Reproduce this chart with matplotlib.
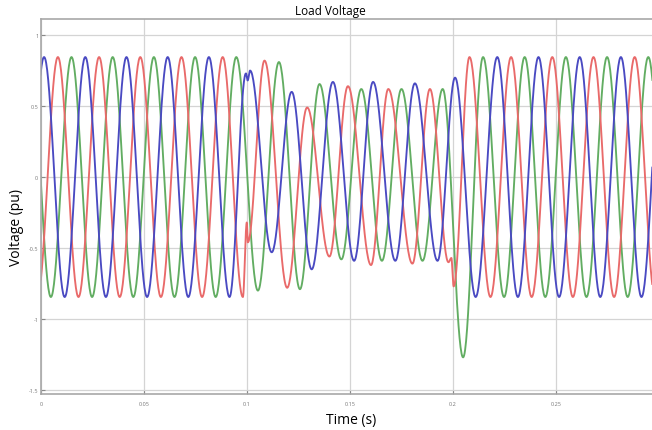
import numpy as np
import matplotlib
matplotlib.use('Agg')
import matplotlib.pyplot as plt

# Extrema (time s, voltage pu), per phase
blue_t = [-0.0085, 0.0015, 0.0115, 0.0215, 0.0315, 0.0415, 0.0515, 0.0615, 0.0715, 0.0815,
          0.0915, 0.0995, 0.1003, 0.1015, 0.1120, 0.1217, 0.1314, 0.1417, 0.1520, 0.1612,
          0.1720, 0.1815, 0.1925, 0.2010, 0.2110, 0.2215, 0.2315, 0.2415, 0.2515, 0.2615,
          0.2715, 0.2815, 0.2915, 0.3015]
blue_v = [-0.845, 0.845, -0.845, 0.845, -0.845, 0.845, -0.845, 0.845, -0.845, 0.845,
          -0.845, 0.73, 0.68, 0.75, -0.53, 0.60, -0.65, 0.67, -0.59, 0.67,
          -0.59, 0.66, -0.59, 0.70, -0.845, 0.845, -0.845, 0.845, -0.845, 0.845,
          -0.845, 0.845, -0.845, 0.845]

red_t = [-0.0018, 0.0082, 0.0182, 0.0282, 0.0382, 0.0482, 0.0582, 0.0682, 0.0782, 0.0882,
         0.0980, 0.0999, 0.1004, 0.1085, 0.1195, 0.1292, 0.1400, 0.1490, 0.1602, 0.1686,
         0.1803, 0.1888, 0.1978, 0.1992, 0.2003, 0.2080, 0.2182, 0.2282, 0.2382, 0.2482,
         0.2582, 0.2682, 0.2782, 0.2882, 0.2982, 0.3082]
red_v = [-0.845, 0.845, -0.845, 0.845, -0.845, 0.845, -0.845, 0.845, -0.845, 0.845,
         -0.845, -0.32, -0.46, 0.82, -0.78, 0.49, -0.56, 0.64, -0.62, 0.62,
         -0.61, 0.62, -0.60, -0.57, -0.77, 0.845, -0.845, 0.845, -0.845, 0.845,
         -0.845, 0.845, -0.845, 0.845, -0.845, 0.845]

green_t = [-0.0052, 0.0048, 0.0148, 0.0248, 0.0348, 0.0448, 0.0548, 0.0648, 0.0748, 0.0848,
           0.0948, 0.1053, 0.1155, 0.1257, 0.1352, 0.1458, 0.1555, 0.1655, 0.1750, 0.1852,
           0.1950, 0.2049, 0.2146, 0.2248, 0.2348, 0.2448, 0.2548, 0.2648, 0.2748, 0.2848,
           0.2948, 0.3048]
green_v = [0.845, -0.845, 0.845, -0.845, 0.845, -0.845, 0.845, -0.845, 0.845, -0.845,
           0.845, -0.80, 0.81, -0.79, 0.655, -0.58, 0.62, -0.59, 0.62, -0.59,
           0.62, -1.27, 0.845, -0.845, 0.845, -0.845, 0.845, -0.845, 0.845, -0.845,
           0.845, -0.845]

x_ticks = [0, 0.05, 0.1, 0.15, 0.2, 0.25]
x_labels = ['0', '0.05', '0.1', '0.15', '0.2', '0.25']
y_ticks = [-1.5, -1, -0.5, 0, 0.5, 1]
y_labels = ['-1.5', '-1', '-0.5', '0', '0.5', '1']


def trace(ts, vs, n=40):
    """join the extrema with half-cosine segments, like the scope waveform"""
    tt, vv = [], []
    for i in range(len(ts) - 1):
        s = np.linspace(0, 1, n, endpoint=False)
        tt.append(ts[i] + s * (ts[i + 1] - ts[i]))
        vv.append(vs[i + 1] + (vs[i] - vs[i + 1]) * 0.5 * (1 + np.cos(np.pi * s)))
    tt.append([ts[-1]])
    vv.append([vs[-1]])
    return np.concatenate(tt), np.concatenate(vv)


plt.rcParams['font.family'] = ['Open Sans', 'DejaVu Sans']

fig = plt.figure(figsize=(6.52, 4.31), dpi=100)
ax = fig.add_axes([41 / 652, 1 - 395 / 431, 1 - 41 / 652, (395 - 20) / 431])

for ts, vs, col in [(green_t, green_v, '#62ad62'),
                    (red_t, red_v, '#e96a6a'),
                    (blue_t, blue_v, '#4a4ac2')]:
    t, v = trace(ts, vs)
    ax.plot(t, v, color=col, lw=1.35, solid_joinstyle='round')

ax.set_xlim(0, (652 - 41) / 2060)
ax.set_ylim(-1.528, 1.113)
ax.set_xticks(x_ticks)
ax.set_xticklabels(x_labels)
ax.set_yticks(y_ticks)
ax.set_yticklabels(y_labels)
ax.tick_params(direction='in', length=3, width=0.8, colors='#888888', labelsize=4,
               labelcolor='#777777')
ax.tick_params(axis='x', pad=5)
ax.tick_params(axis='y', pad=2)
ax.grid(True, color='#d4d4d4', lw=0.9)
for side in ['left', 'top', 'bottom']:
    ax.spines[side].set_color('#a8a8a8')
    ax.spines[side].set_linewidth(1.2)
ax.spines['right'].set_visible(False)

fig.text(330 / 652, 1 - 11 / 431, 'Load Voltage', ha='center', va='center', fontsize=8.5)
fig.text(351 / 652, 1 - 421 / 431, 'Time (s)', ha='center', va='center', fontsize=10)
fig.text(17 / 652, 1 - 228 / 431, 'Voltage (pu)', ha='center', va='center',
         rotation=90, fontsize=10)

fig.savefig('out.png', dpi=100, facecolor='white')
